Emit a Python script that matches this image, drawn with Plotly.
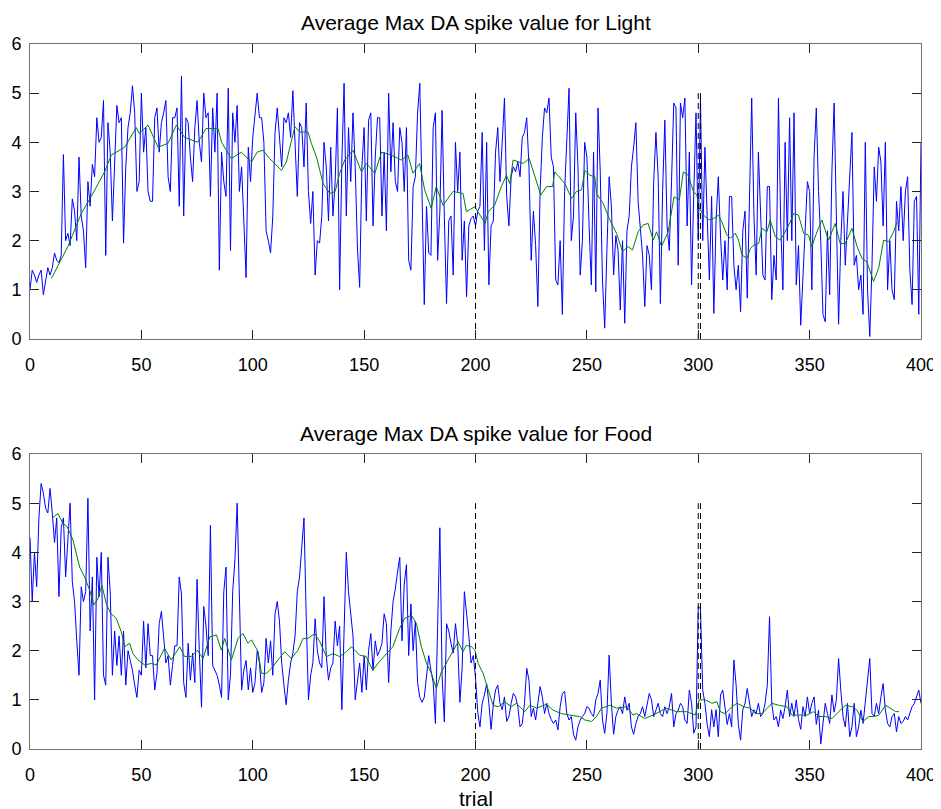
import plotly.graph_objects as go

# ---------------- data ----------------
light_values = [
    1.0, 1.4, 1.3, 1.15, 1.3, 1.4, 0.9, 1.2, 1.45, 1.3,
    1.45, 1.75, 1.6, 1.55, 1.7, 3.75, 2.0, 2.15, 1.9, 2.85,
    2.6, 2.0, 3.7, 2.5, 2.2, 1.45, 3.2, 2.7, 3.55, 3.3,
    4.5, 4.0, 4.1, 4.85, 1.7, 4.4, 3.8, 2.4, 3.6, 4.75,
    4.4, 4.5, 1.95, 3.5, 4.3, 4.6, 5.15, 4.6, 3.0, 3.2,
    5.0, 3.8, 4.3, 3.0, 2.8, 2.8, 4.5, 4.7, 3.8, 4.4,
    4.6, 4.85, 3.3, 3.0, 4.5, 4.5, 4.7, 2.7, 5.35, 2.5,
    4.5, 4.4, 3.7, 3.2, 4.3, 4.85, 4.0, 3.6, 5.0, 4.5,
    4.6, 2.9, 4.7, 3.8, 5.0, 1.4, 3.8, 3.2, 2.9, 5.1,
    1.8, 4.6, 4.0, 4.75, 3.0, 3.5, 2.4, 1.25, 3.9, 3.2,
    4.1, 4.6, 5.0, 4.5, 4.5, 4.0, 2.2, 2.0, 1.75, 2.5,
    4.2, 4.7, 4.0, 3.5, 4.5, 4.4, 4.6, 4.1, 5.05, 3.9,
    2.9, 4.4, 4.3, 3.5, 4.8, 3.0, 2.35, 3.0, 1.3, 2.0,
    1.95, 2.5, 4.0, 3.5, 2.4, 3.9, 2.5, 3.2, 4.7, 1.0,
    3.6, 5.2, 2.5, 4.3, 3.2, 4.6, 3.5, 1.85, 1.05, 3.5,
    4.3, 2.4, 4.45, 4.6, 2.3, 3.7, 4.5, 4.5, 2.5, 3.8,
    2.2, 5.0, 3.4, 4.4, 3.2, 3.0, 4.3, 4.0, 3.0, 4.3,
    1.6, 1.4, 3.1, 3.3, 4.6, 5.2, 2.5, 0.7, 2.7, 1.75,
    1.7, 4.3, 4.6, 1.6, 2.6, 4.65, 2.5, 0.72, 2.4, 2.5,
    1.3, 4.0, 3.0, 3.8, 1.6, 2.4, 0.86, 2.3, 2.45, 2.5,
    2.3, 2.6, 2.7, 4.2, 1.8, 4.0, 1.1, 2.3, 2.4, 3.8,
    4.3, 3.2, 4.0, 4.9, 2.9, 2.3, 3.3, 3.5, 3.4, 3.6,
    3.3, 4.1, 4.2, 4.5, 3.5, 1.6, 2.6, 1.9, 0.66, 3.0,
    4.1, 4.7, 4.6, 4.9, 3.7, 3.5, 1.2, 1.1, 2.0, 0.5,
    3.0, 4.2, 5.1, 2.0, 2.5, 4.6, 3.5, 1.3, 2.0, 4.0,
    3.7, 2.3, 1.1, 3.8, 0.96, 4.7, 3.4, 1.2, 0.22, 1.8,
    3.3, 2.7, 1.3, 2.1, 1.8, 0.59, 2.0, 0.32, 2.2, 2.5,
    3.5, 3.9, 4.4, 2.8, 2.3, 1.7, 0.66, 1.9, 1.7, 1.0,
    3.2, 4.2, 3.3, 0.72, 3.0, 4.45, 2.3, 1.8, 3.2, 4.8,
    4.7, 1.5, 4.8, 4.5, 4.9, 2.3, 3.8, 1.1, 3.0, 4.6,
    2.0, 4.9, 2.0, 3.9, 2.5, 1.2, 2.9, 0.52, 2.4, 3.3,
    2.1, 1.2, 2.0, 1.0, 2.9, 2.9, 1.5, 1.0, 1.5, 0.55,
    2.2, 2.6, 0.83, 2.6, 4.9, 2.5, 1.3, 3.8, 2.4, 1.3,
    1.2, 3.1, 3.1, 0.8, 1.7, 1.2, 4.9, 2.4, 1.0, 4.0,
    2.0, 4.5, 2.0, 4.6, 1.1, 1.9, 0.28, 1.2, 2.0, 3.2,
    3.0, 1.0, 3.7, 4.7, 3.0, 2.0, 0.5, 0.35, 2.2, 0.9,
    3.4, 4.8, 2.5, 0.3, 2.0, 3.0, 1.5, 2.5, 3.3, 4.2,
    1.5, 1.7, 1.0, 1.3, 0.5, 4.0, 1.0, 0.05, 1.5, 3.5,
    2.8, 3.9, 3.6, 2.3, 4.0, 1.0, 2.0, 1.0, 0.8, 2.8,
    2.2, 3.1, 2.0, 3.0, 3.3, 1.4, 0.7, 2.8, 2.9, 0.5,
    4.0,
]

food_values = [
    4.3, 3.0, 4.0, 3.3, 4.7, 5.4, 5.2, 4.9, 4.8, 5.3,
    4.8, 4.2, 4.7, 3.1, 4.5, 4.7, 3.5, 4.3, 5.0, 3.4,
    3.0, 2.2, 1.5, 3.3, 3.0, 3.2, 5.1, 2.4, 3.5, 1.0,
    3.9, 3.1, 4.0, 1.5, 1.3, 3.9, 3.2, 1.5, 2.4, 1.7,
    2.3, 1.5, 2.4, 1.3, 2.0, 1.8, 1.6, 1.3, 1.05, 1.6,
    1.5, 2.6, 1.65, 2.55, 1.9, 1.9, 1.2, 1.55, 2.55, 2.8,
    2.2, 1.75, 1.9, 1.3, 1.7, 2.1, 2.1, 3.5, 3.15, 1.35,
    1.05, 2.15, 1.4, 1.95, 1.35, 3.45, 2.0, 0.85, 2.9, 2.5,
    1.9, 4.55, 1.7, 1.6, 1.5, 1.3, 1.05, 3.2, 3.7, 1.0,
    1.5, 3.2, 3.85, 5.0, 3.1, 1.2, 1.6, 1.8, 1.2, 1.65,
    1.15, 1.35, 2.0, 1.75, 1.15, 1.35, 2.25, 1.75, 2.2, 1.5,
    2.75, 3.0, 2.6, 1.75, 1.3, 0.9, 1.4, 1.75, 1.95, 2.3,
    3.2, 3.5, 4.1, 4.7, 2.7, 1.0, 1.5, 1.75, 2.65, 2.0,
    1.75, 1.65, 3.1, 1.9, 1.4, 1.65, 1.75, 2.6, 2.1, 2.5,
    0.8, 2.3, 4.0, 3.2, 2.7, 2.3, 1.0, 1.4, 1.75, 1.15,
    1.9, 1.2, 2.0, 2.35, 1.6, 2.2, 1.9, 2.0, 2.15, 2.75,
    2.55, 1.35, 2.4, 3.0, 3.25, 3.6, 3.9, 2.2, 3.35, 3.75,
    1.9, 2.95, 2.0, 2.6, 1.35, 1.05, 0.95, 1.05, 1.45, 1.9,
    1.6, 1.35, 0.52, 2.55, 4.5, 1.5, 0.55, 2.55, 2.4, 2.15,
    1.95, 2.55, 2.15, 0.95, 1.65, 3.2, 2.8, 2.3, 1.75, 1.9,
    1.45, 0.75, 0.45, 0.93, 1.1, 1.33, 0.93, 0.4, 0.9, 1.2,
    1.3, 0.93, 0.8, 1.06, 0.56, 0.66, 0.93, 1.13, 1.06, 0.86,
    0.45, 0.52, 0.93, 1.64, 1.4, 0.66, 0.83, 0.59, 0.93, 1.27,
    1.06, 0.72, 0.93, 0.72, 0.6, 0.52, 0.59, 0.39, 0.86, 1.13,
    1.17, 0.72, 0.59, 0.66, 0.3, 0.18, 0.45, 0.59, 0.66, 0.72,
    0.86, 0.83, 0.72, 0.66, 1.0, 1.13, 1.4, 0.59, 0.32, 0.72,
    1.91, 0.93, 0.3, 0.66, 0.79, 0.86, 0.72, 1.06, 0.79, 0.93,
    0.45, 0.3, 0.52, 0.66, 0.72, 0.86, 0.66, 0.93, 1.13, 1.0,
    0.66, 0.79, 0.93, 0.72, 0.66, 0.86, 0.72, 0.86, 1.13, 0.45,
    0.72, 0.79, 0.93, 0.86, 0.59, 0.52, 1.2, 0.93, 0.32, 0.45,
    2.9, 2.85, 1.2, 0.93, 0.5, 0.25, 0.8, 0.45, 0.8, 0.25,
    1.1, 1.2, 0.8, 0.5, 0.72, 0.45, 1.81, 1.3, 0.5, 0.18,
    0.8, 0.93, 1.23, 0.9, 0.66, 0.8, 0.72, 0.93, 0.66, 0.72,
    0.93, 1.3, 2.69, 0.93, 0.59, 0.66, 0.45, 0.79, 0.62, 0.86,
    1.2, 0.66, 0.93, 0.66, 1.0, 0.6, 0.4, 0.86, 0.66, 1.06,
    0.72, 0.93, 1.06, 0.5, 0.79, 0.1, 0.52, 0.93, 0.72, 0.52,
    1.1, 0.75, 1.0, 1.84, 1.2, 0.66, 0.45, 0.93, 0.25, 0.45,
    0.93, 0.25, 0.45, 0.79, 0.52, 0.93, 1.4, 1.84, 0.72, 0.66,
    0.93, 0.72, 1.06, 1.33, 0.79, 0.52, 0.45, 0.66, 0.72, 0.35,
    0.66, 0.52, 0.56, 0.66, 0.59, 0.72, 0.86, 0.93, 1.06, 1.2,
    0.93,
]

light_avg_trials = [
    9.6, 14, 17, 23, 27.5, 33.5, 36.5, 42.5, 47.7, 49, 53, 57.5, 62, 65.7, 69.4,
    75.4, 79, 84.4, 86, 90.4, 94.9, 99.4, 102, 104.6, 107.6, 112.9, 115.1, 118.9,
    121.1, 124.8, 126.3, 128.6, 131.6, 134.6, 137, 139, 141.3, 145, 148.8, 151,
    154.8, 157.8, 162.2, 166.6, 169.7, 171.9, 174.9, 177.2, 180.1, 182.4, 185.4,
    189.9, 194.4, 195.9, 199.7, 204.3, 205.7, 208.6, 211.6, 213.9, 215.4, 216.9,
    219.1, 221.4, 224.1, 226.6, 229.3, 231.9, 234.6, 235.6, 237.9, 240.1, 243.1,
    245.3, 247.6, 249.1, 251.3, 253.6, 254.3, 257.3, 260.3, 263.3, 266, 268.5,
    270.5, 273, 275.3, 277.5, 279.8, 281.3, 283.5, 286.5, 289.1, 291.5, 293.3,
    295.5, 297.8, 299.4, 300.4, 302.4, 304.6, 306.9, 309.1, 310.6, 312.9, 314.4,
    316.6, 318.1, 319.6, 321.9, 323.4, 324.9, 327.1, 328.6, 330.8, 332.3, 334.6,
    336.8, 339, 341.3, 342.8, 345, 347.3, 349.5, 351, 353.3, 355.5, 358.5, 361.5,
    363.7, 366, 369, 371.3, 373.5, 375.7, 378.7, 381, 383.2, 385.5, 387.7, 389.2,
]
light_avg_values = [
    1.23, 1.6, 1.88, 2.55, 2.9, 3.4, 3.74, 3.9, 4.3, 4.18, 4.35, 3.9, 3.98, 4.35, 4.1,
    4.0, 4.28, 4.28, 4.0, 3.67, 3.8, 3.6, 3.8, 3.84, 3.67, 3.43, 3.6, 4.32,
    4.21, 4.21, 3.98, 3.7, 3.16, 2.96, 3.0, 3.37, 3.64, 3.84, 3.4, 3.57,
    3.37, 3.8, 3.74, 3.64, 3.74, 3.37, 3.57, 3.03, 2.66, 3.1, 2.72,
    3.0, 2.96, 2.59, 2.69, 2.35, 2.59, 2.72, 3.1, 3.33, 3.16, 3.64,
    3.6, 3.57, 3.67, 3.3, 2.93, 3.1, 3.1, 3.4, 3.27, 3.16, 2.86,
    3.0, 3.03, 3.43, 3.33, 3.3, 2.96, 2.76, 2.42, 2.15, 1.78, 1.88,
    1.81, 2.18, 2.32, 2.35, 2.01, 2.18, 1.88, 2.18, 2.89, 2.83, 3.4,
    3.33, 3.0, 2.93, 2.66, 2.52, 2.42, 2.45, 2.52, 2.38, 2.11, 2.05,
    2.15, 2.01, 1.71, 1.64, 1.84, 1.91, 1.94, 2.25, 2.18, 2.42, 2.08,
    2.01, 2.18, 2.38, 2.55, 2.52, 2.15, 2.11, 1.88, 2.18, 2.42, 2.01, 2.35,
    1.94, 1.94, 2.25, 1.88, 1.64, 1.57, 1.17, 1.44, 2.01, 1.98, 2.18, 2.38,
]

food_avg_trials = [
    9.85, 12.5, 14.8, 16.7, 19.3, 22.3, 24.5, 26.8, 28.7, 30.5, 32.3, 34.2, 36.2,
    38.7, 41, 42.5, 44.7, 46.2, 48.5, 51.5, 54.5, 56.7, 60.4, 63.4, 67.2, 69.4,
    72.4, 75.1, 77.7, 80.7, 83.7, 85.9, 87.4, 90.4, 93.4, 95.6, 97.9, 99.4, 102.4,
    103.9, 106.1, 108.4, 111.3, 114.3, 117.3, 120.3, 122.6, 124.8, 127.8, 130.1,
    133.1, 136.1, 139, 142, 144.3, 147.9, 150.9, 153.9, 156.9, 160, 162.9, 165.9,
    168.2, 171.2, 173.5, 175.7, 178, 180.2, 182.4, 184.7, 187.7, 189.9, 192.2,
    194.4, 195.9, 198.2, 199.7, 201.2, 203.4, 205.7, 207.9, 210.2, 213.1, 216.1,
    218.3, 222.1, 224.4, 227.4, 231.9, 234.8, 238.6, 242.3, 246.8, 249.1, 252.1,
    254.3, 256.6, 260.3, 263.3, 267.8, 270.7, 272.2, 276, 279.7, 282.7, 285.7,
    290.3, 294.7, 298.7, 300.4, 303.1, 306.1, 308.4, 309.9, 312.1, 315.1, 317.4,
    320.4, 323.4, 325.6, 328.6, 330.8, 333.1, 336.1, 339.8, 342.1, 345.1, 348.8,
    351.8, 354.1, 357.1, 360.1, 363.1, 366.1, 369.1, 371.3, 373.9, 376.6, 378.8,
    381.1, 384.1, 386.4, 388.6, 390.1,
]
food_avg_values = [
    4.69, 4.79, 4.59, 4.52, 4.25, 3.7, 3.5, 3.23, 2.93, 3.06, 3.33, 2.96, 2.76,
    2.66, 2.38, 2.08, 2.15, 1.94, 1.81, 1.71, 1.74, 1.71, 2.05, 1.81, 2.08, 1.88,
    1.88, 2.01, 1.84, 2.28, 2.32, 2.01, 2.25, 1.81, 2.25, 2.35, 2.15, 2.22, 1.98,
    1.54, 1.54, 1.64, 1.81, 1.98, 1.84, 2.01, 2.25, 2.25, 2.35, 2.18,
    1.88, 1.94, 1.88, 1.98, 2.08, 1.91, 1.88, 1.6, 1.78, 1.94, 2.08, 2.45,
    2.66, 2.72, 2.55, 2.08, 1.74, 1.54, 1.23, 1.57, 1.81, 2.01, 2.18,
    1.98, 2.11, 2.08, 2.01, 1.74, 1.54, 1.2, 0.89, 0.86, 0.96, 0.86,
    0.93, 0.76, 0.89, 0.83, 0.91, 0.79, 0.72, 0.69, 0.66, 0.59, 0.56,
    0.66, 0.83, 0.89, 0.83, 0.86, 0.69, 0.72, 0.62, 0.69, 0.76, 0.83,
    0.76, 0.76, 0.69, 1.0, 1.0, 0.93, 0.96, 0.76, 0.72, 0.86, 0.93,
    0.86, 0.83, 0.72, 0.72, 0.83, 0.93, 0.89, 0.86, 0.69, 0.69, 0.69,
    0.76, 0.66, 0.66, 0.62, 0.76, 0.89, 0.86, 0.79, 0.56, 0.66, 0.66,
    0.69, 0.89, 0.83, 0.76, 0.76,
]

phase_trials = [200, 300, 301]
phase_top = 5
x_ticks = [0, 50, 100, 150, 200, 250, 300, 350, 400]
y_ticks = [0, 1, 2, 3, 4, 5, 6]
titles = ["Average Max DA spike value for Light", "Average Max DA spike value for Food"]
x_label = "trial"

# ---------------- figure ----------------
FONT = "Liberation Sans, Arial, Helvetica, sans-serif"
fig = go.Figure()

panels = [
    (light_values, light_avg_trials, light_avg_values, "x", "y"),
    (food_values, food_avg_trials, food_avg_values, "x2", "y2"),
]
for vals, at, av, xa, ya in panels:
    fig.add_trace(go.Scatter(x=list(range(len(vals))), y=vals, mode="lines",
                             line=dict(color="#0000ff", width=1),
                             xaxis=xa, yaxis=ya, showlegend=False, hoverinfo="skip"))
    fig.add_trace(go.Scatter(x=at, y=av, mode="lines",
                             line=dict(color="#008000", width=1),
                             xaxis=xa, yaxis=ya, showlegend=False, hoverinfo="skip"))
    for pt in phase_trials:
        fig.add_trace(go.Scatter(x=[pt, pt], y=[0, phase_top], mode="lines",
                                 line=dict(color="#000000", width=1, dash="6px,4px"),
                                 xaxis=xa, yaxis=ya, showlegend=False, hoverinfo="skip"))

axis_common = dict(
    showgrid=False, zeroline=False, showline=True, linecolor="#707070", linewidth=1,
    mirror="ticks", ticks="inside", ticklen=9, tickwidth=1, tickcolor="#222222",
    tickfont=dict(family=FONT, size=18, color="#000000"), automargin=False,
)

# the page adds an 8px body margin, so the figure is sized to fit inside the window
fig.update_layout(
    width=933, height=801,
    margin=dict(l=22, r=20, t=36, b=60),
    paper_bgcolor="white", plot_bgcolor="white",
    xaxis=dict(domain=[0, 1], range=[0, 400], tickvals=x_ticks, anchor="y",
               ticklabelstandoff=9, **axis_common),
    yaxis=dict(domain=[0.5816, 1], range=[0, 6], tickvals=y_ticks, anchor="x",
               ticklabelstandoff=4, **axis_common),
    xaxis2=dict(domain=[0, 1], range=[0, 400], tickvals=x_ticks, anchor="y2",
                ticklabelstandoff=9, **axis_common),
    yaxis2=dict(domain=[0, 0.4184], range=[0, 6], tickvals=y_ticks, anchor="x2",
                ticklabelstandoff=4, **axis_common),
    annotations=[
        dict(text=titles[0], x=0.5, y=1.031, xref="paper", yref="paper",
             showarrow=False, font=dict(family=FONT, size=21, color="#000000"),
             xanchor="center", yanchor="middle"),
        dict(text=titles[1], x=0.5, y=0.448, xref="paper", yref="paper",
             showarrow=False, font=dict(family=FONT, size=21, color="#000000"),
             xanchor="center", yanchor="middle"),
        dict(text=x_label, x=0.5, y=-0.07, xref="paper", yref="paper",
             showarrow=False, font=dict(family=FONT, size=21, color="#000000"),
             xanchor="center", yanchor="middle"),
    ],
)

fig.write_html("out.html")
